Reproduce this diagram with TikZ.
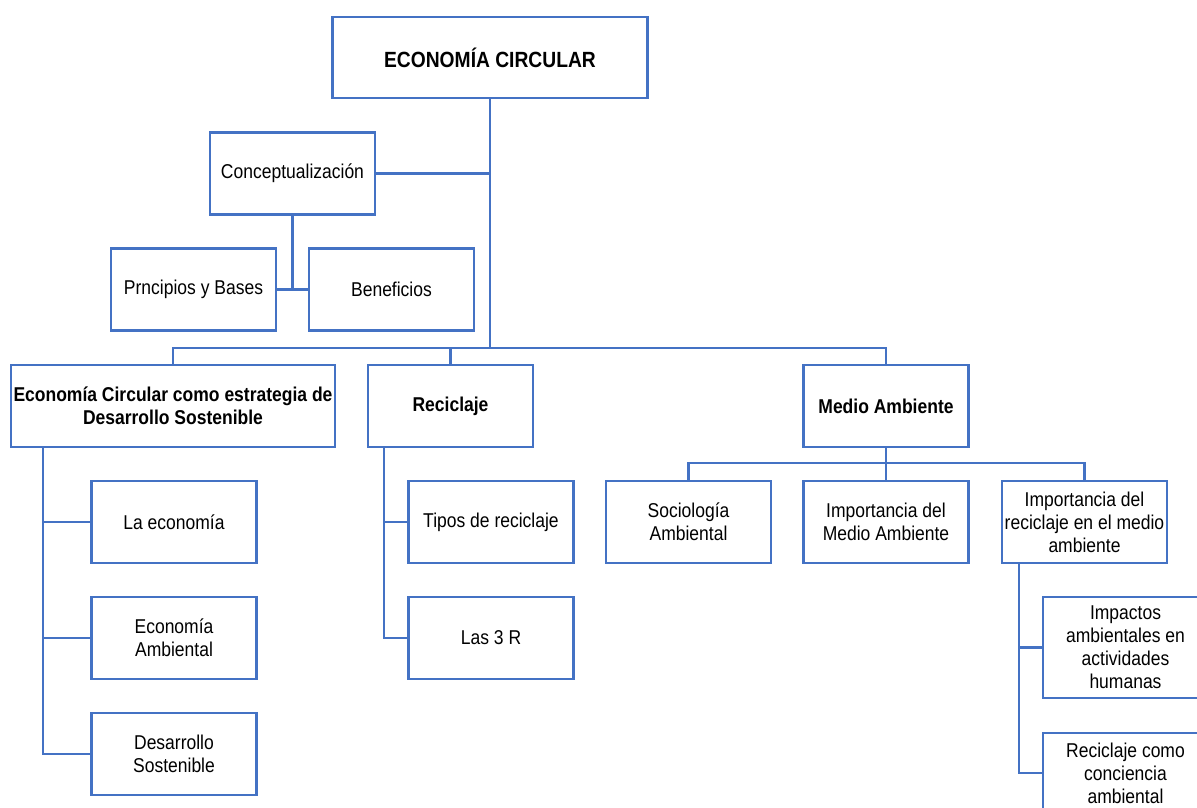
\documentclass[tikz,border=0pt]{standalone}
\usepackage{fontspec}
\setmainfont{Liberation Sans}[FakeStretch=0.875]
\usepackage{tikz}
\usetikzlibrary{positioning}
\definecolor{boxblue}{RGB}{68,114,196}
\tikzset{
	every path/.style = {line width=2.6pt},
	every node/.style = {draw=boxblue, line width=2.6pt, rectangle, fill=white, text=black,
		align=center, inner sep=2pt, outer sep=0pt,
		minimum width=165pt, minimum height=82pt,
		font=\fontsize{20}{23}\selectfont},
	hd/.style = {font=\fontsize{20}{23}\selectfont\bfseries}
}

\begin{document}
\begin{tikzpicture}[x=1pt, y=-1pt, color=boxblue, line width=2.6pt]
	\useasboundingbox (0,0) rectangle (1197,807);
	\node (ec) [hd, font=\fontsize{22}{25}\selectfont\bfseries, minimum width=315pt, minimum height=81pt] at (490,57.5) {ECONOMÍA CIRCULAR};
	\node (con) at (292.5,173.5) {Conceptualización};
	\node (pb) at (193.5,289.5) {Prncipios y Bases};
	\node (ben) at (391.5,289.5) {Beneficios};
	\node (ecds) [hd, minimum width=324pt] at (173,406) {Economía Circular como estrategia de\\Desarrollo Sostenible};
	\node (rec) [hd] at (450.5,406) {Reciclaje};
	\node (ma) [hd] at (886,406) {Medio Ambiente};
	\node (lae) at (174,522) {La economía};
	\node (ea) at (174,638) {Economía\\Ambiental};
	\node (ds) at (174,754) {Desarrollo\\Sostenible};
	\node (tip) at (491,522) {Tipos de reciclaje};
	\node (l3r) at (491,638) {Las 3 R};
	\node (soc) at (688.5,522) {Sociología\\Ambiental};
	\node (imp) at (886,522) {Importancia del\\Medio Ambiente};
	\node (irm) at (1084.5,522) {Importancia del\\reciclaje en el medio\\ambiente};
	\node (iah) [minimum height=101pt] at (1125.5,647.5) {Impactos\\ambientales en\\actividades\\humanas};
	\node (rcc) [minimum height=80pt] at (1125.5,773) {Reciclaje como\\conciencia\\ambiental};
	\coordinate (bus) at (490,348);
	\coordinate (mb) at (886,463);
	\coordinate (c1) at ([xshift=32]ecds.south west);
	\coordinate (c2) at ([xshift=16]rec.south west);
	\coordinate (c3) at ([xshift=17]irm.south west);
	\draw (ec) -- (bus);
	\draw (con) -- (con -| bus);
	\draw (con) -- (con |- pb);
	\draw (pb) -- (ben);
	\draw (ecds) |- (bus) -| (ma);
	\draw (rec) -- (rec |- bus);
	\draw (c1) |- (ds);
	\draw (lae) -- (lae -| c1);
	\draw (ea) -- (ea -| c1);
	\draw (c2) |- (l3r);
	\draw (tip) -- (tip -| c2);
	\draw (ma) -- (mb);
	\draw (soc) |- (mb) -| (irm);
	\draw (imp) -- (mb);
	\draw (c3) |- (rcc);
	\draw (iah) -- (iah -| c3);
\end{tikzpicture}
\end{document}
